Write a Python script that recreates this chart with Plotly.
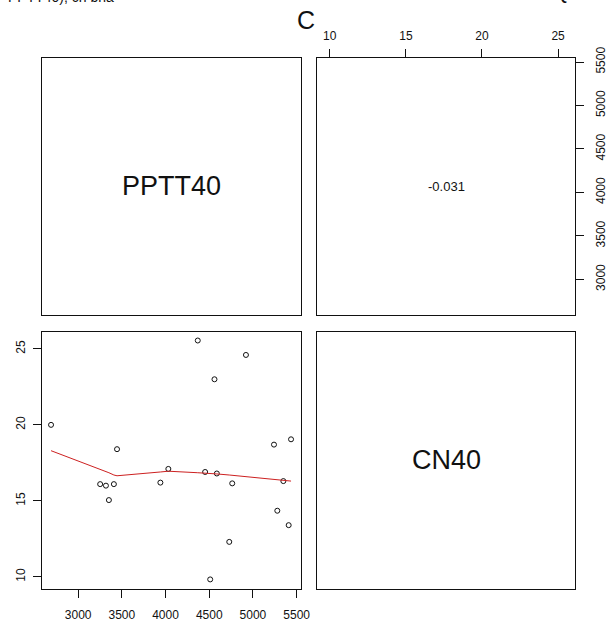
import plotly.graph_objects as go

W, H = 608, 631

# ---- data ----
pptt40 = [2690, 3252, 3318, 3352, 3409, 3445, 3941, 4032, 4369, 4453, 4511,
          4560, 4587, 4729, 4763, 4920, 5241, 5279, 5348, 5409, 5436]
cn40 = [20.0, 16.1, 16.0, 15.05, 16.1, 18.4, 16.2, 17.1, 25.55, 16.9, 9.83,
        23.0, 16.8, 12.3, 16.15, 24.6, 18.7, 14.35, 16.3, 13.4, 19.05]
lowess_cn40 = [18.3, 17.1, 16.95, 16.85, 16.7, 16.65, 16.9, 16.95, 16.85, 16.8, 16.78,
               16.78, 16.77, 16.7, 16.68, 16.58, 16.4, 16.38, 16.33, 16.3, 16.3]
var_labels = ["PPTT40", "CN40"]
corr_label = "-0.031"
title_label = "C"
pptt_ticks = [3000, 3500, 4000, 4500, 5000, 5500]
cn_ticks = [10, 15, 20, 25]

FONT = "Liberation Sans, Arial, sans-serif"

def px_x(a, b):
    return [a / W, b / W]

def px_y(top, bottom):
    return [1 - bottom / H, 1 - top / H]

colL = px_x(42.3, 301.0)
colR = px_x(317.3, 575.3)
rowT = px_y(57.7, 315.0)
rowB = px_y(331.7, 589.3)

pptt_range = [2590, 5550]
cn_range = [9.18, 26.13]

fig = go.Figure()

# scatter (bottom-left)
fig.add_trace(go.Scatter(x=pptt40, y=cn40, mode="markers", xaxis="x", yaxis="y",
                         marker=dict(symbol="circle-open", size=5, color="#111",
                                     line=dict(width=1, color="#111")),
                         showlegend=False, hoverinfo="skip"))
fig.add_trace(go.Scatter(x=pptt40, y=lowess_cn40, mode="lines", xaxis="x", yaxis="y",
                         line=dict(color="#cc2020", width=1),
                         showlegend=False, hoverinfo="skip"))
# empty traces to anchor other panels
for xa, ya in [("x2", "y2"), ("x3", "y3"), ("x4", "y4")]:
    fig.add_trace(go.Scatter(x=[None], y=[None], xaxis=xa, yaxis=ya,
                             showlegend=False, hoverinfo="skip"))

common = dict(showline=True, linecolor="#111", linewidth=1, mirror=True,
              showgrid=False, zeroline=False, automargin=False,
              tickfont=dict(family=FONT, size=12, color="#111"),
              ticks="outside", ticklen=8, tickcolor="#111", tickwidth=1)
blank = dict(showline=True, linecolor="#111", linewidth=1, mirror=True,
             showgrid=False, zeroline=False, showticklabels=False, ticks="",
             automargin=False)

fig.update_layout(
    width=W, height=H,
    margin=dict(l=0, r=0, t=0, b=0, pad=0, autoexpand=False),
    paper_bgcolor="white", plot_bgcolor="white",
    showlegend=False,
    xaxis=dict(domain=colL, anchor="y", range=pptt_range, tickmode="array",
               tickvals=pptt_ticks, side="bottom", ticklabelstandoff=6, **common),
    yaxis=dict(domain=rowB, anchor="x", range=cn_range, tickmode="array",
               tickvals=cn_ticks, side="left", tickangle=-90, ticklabelstandoff=4, **common),
    xaxis2=dict(domain=colR, anchor="y2", range=cn_range, tickmode="array",
                tickvals=cn_ticks, side="top", ticklabelstandoff=4, **common),
    yaxis2=dict(domain=rowT, anchor="x2", range=pptt_range, tickmode="array",
                tickvals=pptt_ticks, side="right", tickangle=-90, ticklabelstandoff=6, **common),
    xaxis3=dict(domain=colL, anchor="y3", range=[0, 1], **blank),
    yaxis3=dict(domain=rowT, anchor="x3", range=[0, 1], **blank),
    xaxis4=dict(domain=colR, anchor="y4", range=[0, 1], **blank),
    yaxis4=dict(domain=rowB, anchor="x4", range=[0, 1], **blank),
)

ann = []
ann.append(dict(text=var_labels[0], xref="x3 domain", yref="y3 domain", x=0.5, y=0.5,
                showarrow=False, font=dict(family=FONT, size=27, color="#111")))
ann.append(dict(text=var_labels[1], xref="x4 domain", yref="y4 domain", x=0.5, y=0.5,
                showarrow=False, font=dict(family=FONT, size=27, color="#111")))
ann.append(dict(text=corr_label, xref="x2 domain", yref="y2 domain", x=0.5, y=0.5,
                showarrow=False, font=dict(family=FONT, size=13, color="#111")))
ann.append(dict(text=title_label, xref="paper", yref="paper", x=306 / W, y=1 - 20 / H,
                xanchor="center", yanchor="middle", showarrow=False,
                font=dict(family=FONT, size=25, color="#111")))
# partially visible text cropped at the top edge (as in the reference)
ann.append(dict(text="PPTT40), cn bna", xref="paper", yref="paper", x=6 / W, y=1 + 3 / H,
                xanchor="left", yanchor="middle", showarrow=False,
                font=dict(family=FONT, size=14, color="#111")))
ann.append(dict(text="<b>Quantile</b>", xref="paper", yref="paper", x=555 / W, y=1 + 5 / H,
                xanchor="left", yanchor="middle", showarrow=False,
                font=dict(family=FONT, size=14, color="#111")))
fig.update_layout(annotations=ann)

fig.write_html("out.html", config={"displayModeBar": False},
               post_script="document.body.style.margin='0';document.body.style.overflow='hidden';")
